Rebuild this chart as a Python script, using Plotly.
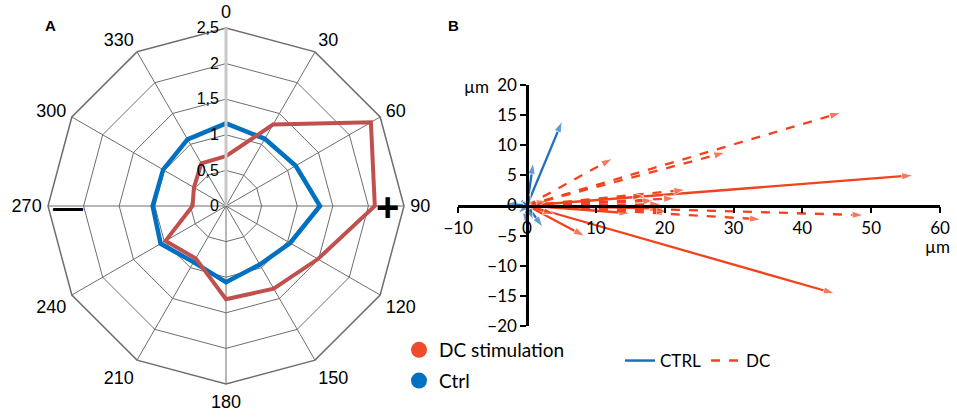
import plotly.graph_objects as go

# ---------------- Panel A data (radar) ----------------
angles = ["0", "30", "60", "90", "120", "150", "180", "210", "240", "270", "300", "330"]
dc_stim = [0.70, 1.32, 2.35, 2.09, 1.49, 1.34, 1.31, 0.85, 0.98, 0.47, 0.52, 0.69]
ctrl = [1.16, 1.09, 1.13, 1.32, 1.04, 0.95, 1.07, 0.91, 1.06, 1.03, 1.02, 1.08]
radial_ticks = [0, 0.5, 1, 1.5, 2, 2.5]

# ---------------- Panel B data (displacement vectors, µm) ----------------
ctrl_x = [5.1, 0.9, 2.3, -3.2, -0.3, 0.9, -1.3, 0.5, -0.8]
ctrl_y = [14.0, 7.1, -3.6, 0.3, -3.2, -2.4, -1.3, 2.0, 0.8]
dc_solid_x = [56.1, 44.7, 8.4, 19.5, 15.0, 4.0, 3.0]
dc_solid_y = [5.0, -14.6, -5.1, -0.5, -1.3, -1.5, 0.8]
dc_dash_x = [45.6, 28.8, 12.4, 23.0, 21.5, 48.9, 34.0, 18.5, 19.5, 20.5, 17.0]
dc_dash_y = [15.4, 8.8, 7.8, 2.6, 1.2, -1.6, -2.3, 0.8, 0.2, -1.0, 1.6]
x_ticks = [-10, 0, 10, 20, 30, 40, 50, 60]
y_ticks = [-20, -15, -10, -5, 0, 5, 10, 15, 20]

RED_LINE = "#C0504D"
BLUE_LINE = "#0070C0"
RED_DOT = "#EE4B2B"
RED_ARROW = "#F4411E"
BLUE_ARROW = "#1F6FC0"
GRID = "#6E6E6E"

ARIAL = "Liberation Sans, Arial, sans-serif"
CAL = "Lato, Carlito, sans-serif"

fig = go.Figure()

# Radar lines
fig.add_trace(go.Scatterpolar(
    r=ctrl + ctrl[:1], theta=angles + angles[:1], mode="lines",
    line=dict(color=BLUE_LINE, width=4.5), showlegend=False, hoverinfo="skip"))
fig.add_trace(go.Scatterpolar(
    r=dc_stim + dc_stim[:1], theta=angles + angles[:1], mode="lines",
    line=dict(color=RED_LINE, width=4), showlegend=False, hoverinfo="skip"))

# Legend entries for panel A
fig.add_trace(go.Scatter(x=[None], y=[None], mode="markers", name="DC stimulation",
                         marker=dict(size=20, color=RED_DOT), legend="legend",
                         legendgroup="a1", xaxis="x", yaxis="y"))
fig.add_trace(go.Scatter(x=[None], y=[None], mode="markers", name="Ctrl",
                         marker=dict(size=20, color=BLUE_LINE), legend="legend",
                         legendgroup="a2", xaxis="x", yaxis="y"))


def add_arrows(xs, ys, color, dash, width):
    for tx, ty in zip(xs, ys):
        fig.add_trace(go.Scatter(
            x=[0, tx], y=[0, ty], mode="lines+markers",
            line=dict(color=color, width=width, dash=dash),
            marker=dict(symbol="arrow", size=[0, 12], angleref="previous", color=color),
            showlegend=False, hoverinfo="skip", xaxis="x", yaxis="y"))


add_arrows(dc_solid_x, dc_solid_y, RED_ARROW, "solid", 2.3)
add_arrows(dc_dash_x, dc_dash_y, RED_ARROW, "dash", 2.3)
add_arrows(ctrl_x, ctrl_y, BLUE_ARROW, "solid", 2.3)

# Legend entries for panel B
fig.add_trace(go.Scatter(x=[None], y=[None], mode="lines", name="CTRL",
                         line=dict(color=BLUE_ARROW, width=2.5), legend="legend2",
                         xaxis="x", yaxis="y"))
fig.add_trace(go.Scatter(x=[None], y=[None], mode="lines", name="DC",
                         line=dict(color=RED_ARROW, width=2.5, dash="dash"), legend="legend2",
                         xaxis="x", yaxis="y"))

W, H = 957, 419
# polar placement
cx, cy, R = 226, 206, 178
pol_x = [(cx - R) / W, (cx + R) / W]
pol_y = [(H - cy - R) / H, (H - cy + R) / H]

# cartesian placement
x_dom = [458.2 / W, 940.0 / W]
y_dom = [(H - 326) / H, (H - 85) / H]
y0_pos = (y_dom[0] + y_dom[1]) / 2
x0_pos = x_dom[0] + (x_dom[1] - x_dom[0]) * (10 / 70)


def note(text, px, py, size, family):
    return dict(text=text, x=px / W, y=(H - py) / H, xref="paper", yref="paper",
                xanchor="center", yanchor="middle", showarrow=False,
                font=dict(size=size, family=family, color="black"))


fig.update_layout(
    width=W, height=H, margin=dict(l=0, r=0, t=0, b=0, autoexpand=False),
    paper_bgcolor="white", plot_bgcolor="white",
    separators=", ",
    font=dict(family=ARIAL, color="black"),
    polar=dict(
        domain=dict(x=pol_x, y=pol_y),
        bgcolor="white",
        gridshape="linear",
        angularaxis=dict(
            type="category", categoryarray=angles, rotation=90, direction="clockwise",
            showline=True, linecolor=GRID, linewidth=1.5,
            showgrid=True, gridcolor=GRID, gridwidth=1.4,
            ticks="outside", ticklen=2, tickcolor="rgba(0,0,0,0)",
            tickfont=dict(size=18, family=ARIAL, color="black")),
        radialaxis=dict(
            range=[0, 2.5], tickvals=radial_ticks, angle=90, side="counterclockwise",
            showline=True, linecolor="#C8C8C8", linewidth=3,
            showgrid=True, gridcolor=GRID, gridwidth=1.4,
            ticks="", tickangle=90,
            tickfont=dict(size=16, family=ARIAL, color="black")),
    ),
    xaxis=dict(
        domain=x_dom, range=[-10, 60], tickvals=x_ticks, anchor="free", position=y0_pos,
        showline=True, linecolor="black", linewidth=2.5, showgrid=False, zeroline=False,
        ticks="outside", ticklen=6, tickwidth=2, tickcolor="black", automargin=False,
        tickfont=dict(size=17, family=CAL, color="black")),
    yaxis=dict(
        domain=y_dom, range=[-20, 20], tickvals=y_ticks, anchor="free", position=x0_pos,
        showline=True, linecolor="black", linewidth=2.5, showgrid=False, zeroline=False,
        ticks="outside", ticklen=6, tickwidth=2, tickcolor="black", automargin=False,
        tickfont=dict(size=17, family=CAL, color="black")),
    legend=dict(x=399 / W, y=(H - 331) / H, xanchor="left", yanchor="top",
                font=dict(size=19, family=CAL, color="black"), tracegroupgap=3,
                bgcolor="rgba(0,0,0,0)", itemsizing="trace"),
    legend2=dict(x=620 / W, y=(H - 343) / H, xanchor="left", yanchor="top",
                 orientation="h", font=dict(size=17, family=CAL, color="black"),
                 bgcolor="rgba(0,0,0,0)", itemwidth=30),
    annotations=[
        note("<b>A</b>", 50, 25, 15, ARIAL),
        note("<b>B</b>", 453, 25, 15, ARIAL),
        note("<b>+</b>", 387, 207, 40, ARIAL),
        note("<b>—</b>", 68, 207, 30, ARIAL),
        note("µm", 937, 246, 17, CAL),
        note("µm", 476, 86, 17, CAL),
    ],
)

fig.write_html("out.html", config={"displayModeBar": False},
               post_script="document.body.style.margin='0px';")
